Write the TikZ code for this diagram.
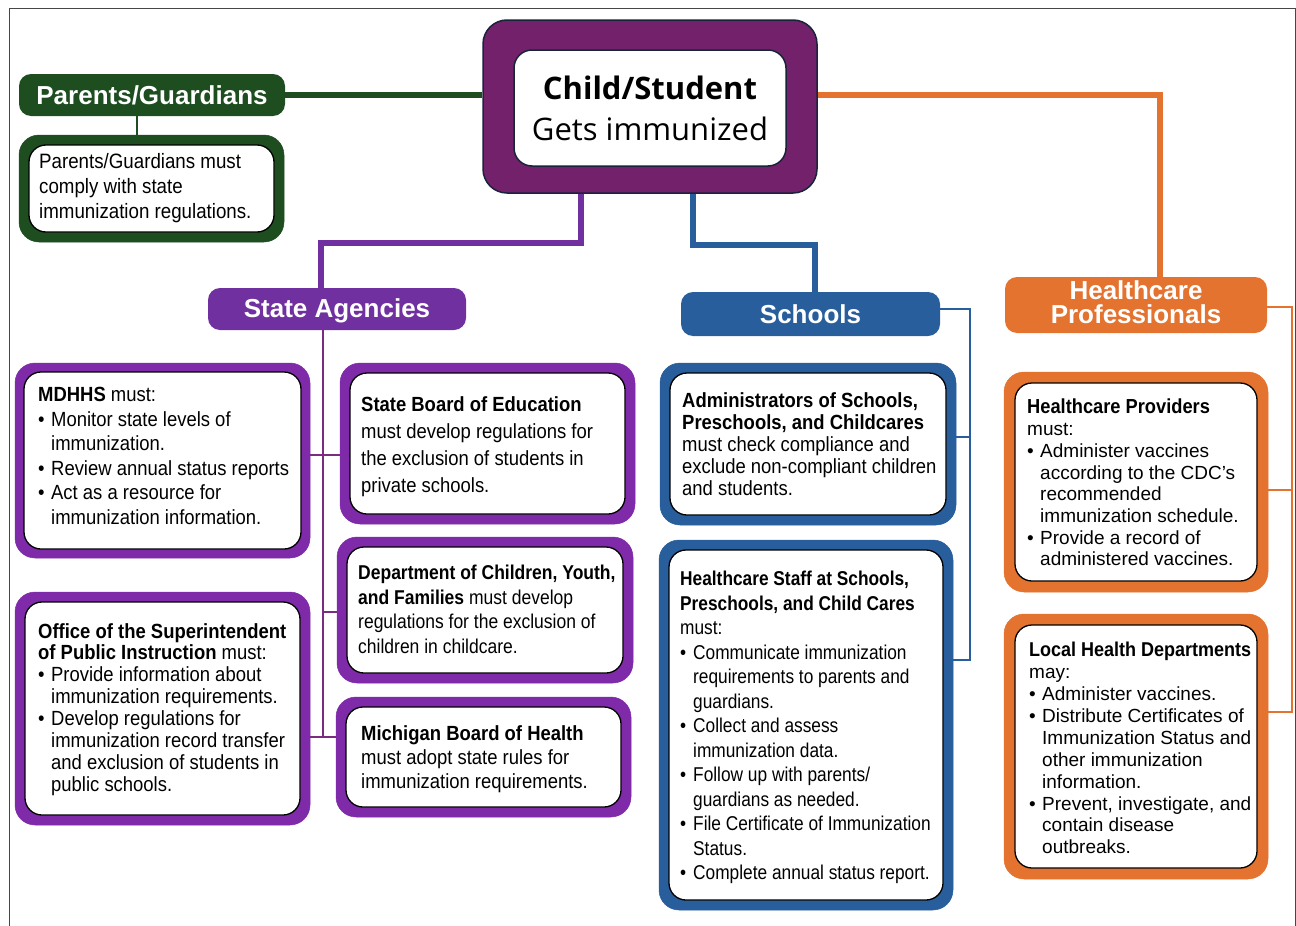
\documentclass[tikz,border=0pt]{standalone}
\usepackage{fontspec}
\setmainfont{Liberation Sans}
\newfontfamily\narrow[FakeStretch=0.9]{Liberation Sans}
\newfontfamily\narrowB[FakeStretch=0.875]{Liberation Sans}
\newfontfamily\narrowC[FakeStretch=0.865]{Liberation Sans}
\newfontfamily\kidfont{Open Sans}
\definecolor{pgreen}{RGB}{30,77,32}
\definecolor{kidpurple}{RGB}{116,33,107}
\definecolor{kidedge}{RGB}{25,35,60}
\definecolor{sapurple}{RGB}{112,48,160}
\definecolor{boxpurple}{RGB}{127,42,168}
\definecolor{thinpurple}{RGB}{122,45,128}
\definecolor{sblue}{RGB}{40,94,156}
\definecolor{horange}{RGB}{228,115,48}
\definecolor{framegray}{RGB}{70,70,70}
\newcommand\bul{\makebox[13pt][l]{\textbullet}}
\newcommand\ind{\hspace*{13pt}}
\tikzset{
  outerbox/.style={rounded corners=20pt, inner sep=0pt, fill=#1, draw=#1, line width=0.5pt},
  innerbox/.style={rounded corners=17pt, fill=white, draw=black, line width=1.3pt, inner sep=0pt},
  hdr/.style={rounded corners=12pt, fill=#1, text=white, inner sep=0pt,
     font=\bfseries\fontsize{26}{24}\selectfont, align=center},
  body/.style={anchor=north west, align=left, inner sep=0pt},
  thick conn/.style={line width=5.5pt, #1},
  thin conn/.style={line width=2.2pt, #1},
}
\newcommand\dbox[7]{%
  \pgfmathsetmacro\myBw{#5-#3}\pgfmathsetmacro\myBh{#6-#4}%
  \pgfmathsetmacro\myCx{(#3+#5)/2}\pgfmathsetmacro\myCy{(#4+#6)/2}%
  \pgfmathsetmacro\myIw{#5-#3-2*#7}\pgfmathsetmacro\myIh{#6-#4-2*#7}%
  \node[outerbox=#2, minimum width=\myBw pt, minimum height=\myBh pt] (#1) at (\myCx,\myCy) {};
  \node[innerbox, minimum width=\myIw pt, minimum height=\myIh pt] (#1-in) at (\myCx,\myCy) {};
}
\begin{document}
\begin{tikzpicture}[x=1pt,y=-1pt]
\useasboundingbox (0,0) rectangle (1296,926);
% frame
\draw[framegray, line width=1pt] (9,926) -- (9,8) -- (1295,8) -- (1295,926);

% ---------- child ----------
\node[rounded corners=24pt, fill=kidpurple, draw=kidedge, line width=1.5pt,
      minimum width=334pt, minimum height=173pt, inner sep=0pt] (child) at (650,106.5) {};
\node[rounded corners=18pt, fill=white, draw=kidedge, line width=1.5pt,
      minimum width=272pt, minimum height=116pt, inner sep=0pt, align=center,
      font=\kidfont\fontsize{31}{41}\selectfont] (child-in) at (650,108)
      {\textbf{Child/Student}\\Gets immunized};

% ---------- parents ----------
\node[hdr=pgreen, minimum width=266pt, minimum height=42pt] (pg) at (152,95) {Parents/Guardians};
\dbox{pgd}{pgreen}{19}{135}{284}{242}{10}
\node[body, font=\narrow\fontsize{20.8}{25}\selectfont] (pgd-t) at (39,153)
  {Parents/Guardians must\\comply with state\\immunization regulations.};

% ---------- state agencies ----------
\node[hdr=sapurple, minimum width=258pt, minimum height=42pt, text depth=1.5pt] (sa) at (337,309) {State Agencies};
\dbox{mdhhs}{boxpurple}{15}{363}{310}{558}{9}
\dbox{sbe}{boxpurple}{340}{363}{635}{524}{10}
\dbox{dcyf}{boxpurple}{337}{537}{633}{683}{10}
\dbox{ospi}{boxpurple}{15}{592}{310}{825}{10}
\dbox{mbh}{boxpurple}{336}{697}{631}{817}{10}

\node[body, font=\narrow\fontsize{20.5}{24.5}\selectfont] (mdhhs-t) at (38,387)
  {\textbf{MDHHS} must:\\\bul Monitor state levels of\\\ind immunization.\\\bul Review annual status reports\\\bul Act as a resource for\\\ind immunization information.};
\node[body, font=\narrow\fontsize{20.5}{27}\selectfont] (sbe-t) at (361,396)
  {\textbf{State Board of Education}\\must develop regulations for\\the exclusion of students in\\private schools.};
\node[body, font=\narrowB\fontsize{20}{24.5}\selectfont] (dcyf-t) at (358,565)
  {\textbf{Department of Children, Youth,}\\\textbf{and Families} must develop\\regulations for the exclusion of\\children in childcare.};
\node[body, font=\narrow\fontsize{20.5}{21.9}\selectfont] (ospi-t) at (38,623)
  {\textbf{Office of the Superintendent}\\\textbf{of Public Instruction} must:\\\bul Provide information about\\\ind immunization requirements.\\\bul Develop regulations for\\\ind immunization record transfer\\\ind and exclusion of students in\\\ind public schools.};
\node[body, font=\narrow\fontsize{20.5}{24}\selectfont] (mbh-t) at (361,725)
  {\textbf{Michigan Board of Health}\\must adopt state rules for\\immunization requirements.};

% ---------- schools ----------
\node[hdr=sblue, minimum width=259pt, minimum height=44pt] (sch) at (810.5,314) {Schools};
\dbox{adm}{sblue}{660}{363}{956}{525}{10}
\dbox{hs}{sblue}{659}{540}{953}{910}{10}
\node[body, font=\narrow\fontsize{20.5}{22}\selectfont] (adm-t) at (682,392)
  {\textbf{Administrators of Schools,}\\\textbf{Preschools, and Childcares}\\must check compliance and\\exclude non-compliant children\\and students.};
\node[body, font=\narrowC\fontsize{20}{24.5}\selectfont] (hs-t) at (680,571)
  {\textbf{Healthcare Staff at Schools,}\\\textbf{Preschools, and Child Cares}\\must:\\\bul Communicate immunization\\\ind requirements to parents and\\\ind guardians.\\\bul Collect and assess\\\ind immunization data.\\\bul Follow up with parents/\\\ind guardians as needed.\\\bul File Certificate of Immunization\\\ind Status.\\\bul Complete annual status report.};

% ---------- healthcare professionals ----------
\node[hdr=horange, minimum width=262pt, minimum height=56pt] (hp) at (1136,305) {};
\node[font=\bfseries\fontsize{26}{24}\selectfont, text=white, align=center, inner sep=0pt]
  (hp-t) at (1136,302) {Healthcare\\Professionals};
\dbox{hpr}{horange}{1004}{372}{1268}{592}{11}
\dbox{lhd}{horange}{1004}{614}{1268}{879}{11}
\node[body, font=\fontsize{19}{21.7}\selectfont] (hpr-t) at (1027,399)
  {{\narrow\bfseries\fontsize{20.3}{21.7}\selectfont Healthcare Providers}\\must:\\\bul Administer vaccines\\\ind according to the CDC’s\\\ind recommended\\\ind immunization schedule.\\\bul Provide a record of\\\ind administered vaccines.};
\node[body, font=\fontsize{19}{21.9}\selectfont] (lhd-t) at (1029,642)
  {{\narrow\bfseries\fontsize{20}{21.9}\selectfont Local Health Departments}\\may:\\\bul Administer vaccines.\\\bul Distribute Certificates of\\\ind Immunization Status and\\\ind other immunization\\\ind information.\\\bul Prevent, investigate, and\\\ind contain disease\\\ind outbreaks.};

% ---------- connectors ----------
% green
\coordinate (gj) at (137,0);
\draw[thick conn=pgreen, line width=6pt] (pg.east) -- (pg.east -| child.west);
\draw[thin conn=pgreen, line width=2.5pt] (pg.south -| gj) -- (pgd.north -| gj);
% purple
\coordinate (pb1) at (581,243);
\coordinate (pb2) at (321,243);
\draw[thick conn=sapurple] (child.south -| pb1) -- (pb1) -- (pb2) -- (sa.north -| pb2);
\coordinate (pa) at (323,455);
\coordinate (pb) at (323,612);
\coordinate (pc) at (323,737);
\draw[thin conn=thinpurple] (sa.south -| pa) -- (pc);
\draw[thin conn=thinpurple] (mdhhs.east |- pa) -- (sbe.west |- pa);
\draw[thin conn=thinpurple] (pb) -- (dcyf.west |- pb);
\draw[thin conn=thinpurple] (ospi.east |- pc) -- (mbh.west |- pc);
% blue
\coordinate (bb1) at (693,245);
\coordinate (bb2) at (815,245);
\draw[thick conn=sblue] (child.south -| bb1) -- (bb1) -- (bb2) -- (sch.north -| bb2);
\coordinate (sj1) at (970,309);
\coordinate (sjA) at (970,437);
\coordinate (sj2) at (970,660);
\draw[thin conn=sblue] (sch.east |- sj1) -- (sj1) -- (sj2) -- (hs.east |- sj2);
\draw[thin conn=sblue] (sjA) -- (adm.east |- sjA);
% orange
\coordinate (ob) at (1160,95);
\draw[thick conn=horange, line width=6pt] (child.east |- ob) -- (ob) -- (hp.north -| ob);
\coordinate (oj1) at (1292,307);
\coordinate (ojA) at (1292,490);
\coordinate (oj2) at (1292,712);
\draw[thin conn=horange] (hp.east |- oj1) -- (oj1) -- (oj2) -- (lhd.east |- oj2);
\draw[thin conn=horange] (ojA) -- (hpr.east |- ojA);
\end{tikzpicture}
\end{document}
